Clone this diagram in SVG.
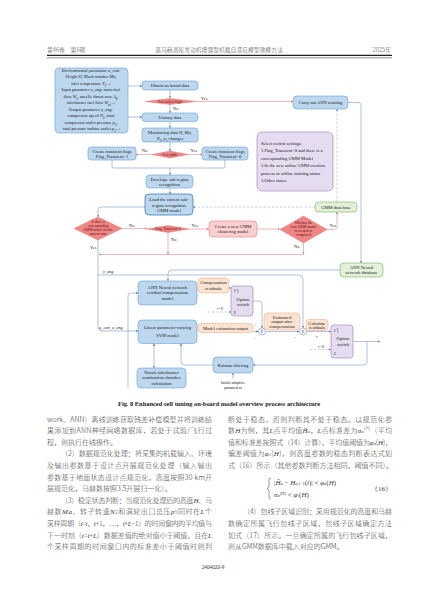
<svg xmlns="http://www.w3.org/2000/svg" width="427" height="599" viewBox="0 0 427 599">
<defs>
<style>
.t{font-family:"Liberation Serif",serif;font-size:4.6px;fill:#1a1a1a;text-anchor:middle}
.tl{font-family:"Liberation Serif",serif;font-size:4.6px;fill:#1a1a1a}
.ts{font-family:"Liberation Serif",serif;font-size:3.6px;fill:#5a1010;text-anchor:middle}
.i{font-style:italic}
.sb{font-size:3.2px;baseline-shift:sub}
.bx{fill:#bdd7ee;stroke:#6a9fd6;stroke-width:0.6}
.bxd{fill:#bdd7ee;stroke:#3d7cc0;stroke-width:0.8}
.dm{fill:#ef8585;stroke:#e46a6a;stroke-width:0.4}
.pk{fill:#f9cfcf;stroke:#e47d7d;stroke-width:0.6}
.gr{fill:#e3f0da;stroke:#77b152;stroke-width:0.6}
.pu{fill:#e6dcf0;stroke:#9a7bb8;stroke-width:0.6}
.or{fill:#fce3d2;stroke:#f0b088;stroke-width:0.6}
.sm{fill:#ffffff;stroke:#6a8fc4;stroke-width:0.6}
.cn{fill:none;stroke:#7a98c8;stroke-width:0.6;marker-end:url(#ab)}
.cn0{fill:none;stroke:#7a98c8;stroke-width:0.6}
.cr{fill:none;stroke:#e88a8a;stroke-width:0.6;marker-end:url(#ar)}
.ds{stroke-dasharray:2.5 1.6;stroke:#a8b8cc}
.zh{font-family:"Noto Sans CJK SC","Liberation Serif",sans-serif;font-size:7px;font-weight:300;fill:#3a3a3a}
.zv{font-family:"Liberation Serif",serif;font-style:italic}
.hd{font-family:"Noto Sans CJK SC",sans-serif;font-size:5.8px;font-weight:300;fill:#444}
.lb{font-family:"Liberation Serif",serif;font-size:4.4px;fill:#1a1a1a}
</style>
<marker id="ab" viewBox="0 0 6 6" refX="5.5" refY="3" markerWidth="4.5" markerHeight="4.5" orient="auto-start-reverse"><path d="M0,0.6 L6,3 L0,5.4z" fill="#4f77b3"/></marker>
<marker id="ar" viewBox="0 0 6 6" refX="5.5" refY="3" markerWidth="4.5" markerHeight="4.5" orient="auto"><path d="M0,0.6 L6,3 L0,5.4z" fill="#e06a6a"/></marker>
</defs>
<rect width="427" height="599" fill="#ffffff"/>

<g id="header">
<text class="hd" x="47" y="52">第46卷　第6期</text>
<text class="hd" x="219" y="52" text-anchor="middle">高马赫涡轮发动机增强型机载自适应模型建模方法</text>
<text class="hd" x="391" y="52" text-anchor="end">2025年</text>
<line x1="47" y1="55.3" x2="392" y2="55.3" stroke="#222" stroke-width="1.2"/>
<line x1="47" y1="57.8" x2="392" y2="57.8" stroke="#222" stroke-width="0.5"/>
</g>

<g id="connectors">
<path class="cn" d="M128,86 H142"/>
<path class="cn" d="M128,117 H142"/>
<path class="cn" d="M170,90 V98"/>
<path class="cr" d="M196,101.5 H293"/>
<path class="cn" d="M170,104 V113"/>
<path class="cn" d="M170,121.5 V128"/>
<path class="cn" d="M170,142 V151"/>
<path class="cr" d="M152,154.5 H136"/>
<path class="cr" d="M188,154.5 H202"/>
<path class="cn0" d="M112,160 V166 Q112,168 114,168 H223 Q225,168 225,166 V160"/>
<path class="cn" d="M170,168 V175"/>
<path class="cn" d="M170,188 V194"/>
<path class="cn" d="M145,207 H101 Q98,207 98,210 V217"/>
<path class="cn ds" d="M315,207 H193"/>
<path class="cn ds" d="M337,202 V109"/>
<path class="cn" d="M348,102.5 H358 Q361,102.5 361,105.5 V263"/>
<path class="cr" d="M122,228.5 H147"/>
<path class="cr" d="M189,229 H209"/>
<path class="cr" d="M257,229 H280"/>
<path class="cr" d="M327,229.5 H334 Q337,229.5 337,226.5 V212"/>
<path class="cr" d="M168,232.5 V254"/>
<path class="cr" d="M303.5,243 V254"/>
<path class="cr" d="M303.5,254.5 H99"/>
<path class="cn0" d="M98,240 V327 Q98,331 102,331"/>
<path class="cn" d="M101,331 H138"/>
<path class="cn" d="M340,270 H172 Q168,270 168,274 V281"/>
<path class="cn" d="M98,275 H299 Q303,275 303,279 V328"/>
<path class="cn" d="M128,388 V296 Q128,293 131,293 H138"/>
<path class="cn" d="M154,343.5 V368" marker-start="url(#ab)"/>
<path class="cn" d="M213,365 H185 Q181,365 181,361 V343.5"/>
<path class="cn" d="M233,379 V373"/>
<path class="cn" d="M229,288 H231"/>
<path class="cn ds" d="M208,312 H231"/>
<path class="cn" d="M253,301 H259 Q262,301 262,304 V328"/>
<path class="cn" d="M253,331.5 H258.5"/>
<path class="cn" d="M265.5,331.5 H299.5"/>
<path class="cn" d="M306.5,331.5 H331"/>
<path class="cn ds" d="M310,349.5 H331"/>
<path class="cn" d="M353,341.5 H380"/>
<path class="cn" d="M367,341.5 V362 Q367,365 364,365 H253"/>
</g>

<g id="env">
<rect class="bx" x="55" y="68" width="73" height="65" rx="4"/>
<text class="t" style="font-size:4.4px">
<tspan x="91.5" y="71.8" class="i">Environmental parameter u_con:</tspan>
<tspan x="91.5" y="78.3">Height <tspan class="i">H</tspan>, Mach number <tspan class="i">Ma</tspan>,</tspan>
<tspan x="91.5" y="84.8">inlet temperature <tspan class="i">T</tspan><tspan class="sb">1</tspan>...;</tspan>
<tspan x="91.5" y="91.3">Input parameter <tspan class="i">u_eng</tspan>: main fuel</tspan>
<tspan x="91.5" y="97.8">flow <tspan class="i">W</tspan><tspan class="sb">f</tspan>,  nacelle throat area <tspan class="i">A</tspan><tspan class="sb">8</tspan>,</tspan>
<tspan x="91.5" y="104.3">afterburner fuel flow <tspan class="i">W</tspan><tspan class="sb">fa</tspan>...;</tspan>
<tspan x="91.5" y="110.8">Output parameter <tspan class="i">y_eng</tspan>:</tspan>
<tspan x="91.5" y="117.3">compressor speed <tspan class="i">N</tspan><tspan class="sb">2</tspan>, total</tspan>
<tspan x="91.5" y="123.8">compressor outlet pressure <tspan class="i">p</tspan><tspan class="sb">3</tspan>,</tspan>
<tspan x="91.5" y="130.3">total pressure turbine outlet <tspan class="i">p</tspan><tspan class="sb">5</tspan>...;</tspan>
</text>
</g>
<g id="obtain"><rect class="bx" x="142" y="81" width="56" height="9" rx="3"/><text class="t" x="170" y="87.1">Obtain on board data</text></g>
<g id="endflight"><polygon class="dm" points="145,101.5 170,98.5 196,101.5 170,104.5"/><text class="ts" x="170" y="102.7">Test end of flight</text></g>
<g id="lbl1"><text class="lb" x="201" y="99.5">Yes</text><text class="lb" x="173" y="109.5">No</text></g>
<g id="unitary"><rect class="bx" x="142" y="113" width="56" height="8.5" rx="3"/><text class="t" x="170" y="118.9">Unitary data</text></g>
<g id="monitor"><rect class="bx" x="142" y="128" width="56" height="14" rx="3"/>
<text class="t"><tspan x="170" y="134">Monitoring data <tspan class="i">H</tspan>, <tspan class="i">Ma</tspan>,</tspan><tspan x="170" y="139.6"><tspan class="i">N</tspan><tspan class="sb">2</tspan>, <tspan class="i">p</tspan><tspan class="sb">3</tspan> changes</tspan></text></g>
<g id="stable"><polygon class="dm" points="152,154.5 170,151 188,154.5 170,158"/><text class="ts" x="170" y="155.7">Is it stable</text></g>
<g id="lbl2"><text class="lb" x="142" y="151.5">No</text><text class="lb" x="190.5" y="151.5">Yes</text></g>
<g id="flag1"><rect class="bx" x="88" y="147" width="48" height="13" rx="3"/><text class="t"><tspan x="112" y="152.6">Create transient flags</tspan><tspan x="112" y="157.8">Flag_Transient=1</tspan></text></g>
<g id="flag0"><rect class="bx" x="202" y="147" width="46" height="13" rx="3"/><text class="t"><tspan x="225" y="152.6">Create transient flags</tspan><tspan x="225" y="157.8">Flag_Transient=0</tspan></text></g>
<g id="envelope"><rect class="bx" x="146" y="175" width="47" height="13" rx="4"/><text class="t"><tspan x="169.5" y="180.6">Envelope sub-region</tspan><tspan x="169.5" y="185.8">recognition</tspan></text></g>
<g id="load"><rect class="bxd" x="145" y="194" width="48" height="21" rx="4"/><text class="t"><tspan x="169" y="201.2">Load the current sub-</tspan><tspan x="169" y="206.6">region recognition</tspan><tspan x="169" y="212">GMM model</tspan></text></g>
<g id="gmmexist"><polygon class="dm" points="74,228.5 98,217 122,228.5 98,240"/><text class="ts"><tspan x="98" y="223.2">Is there a</tspan><tspan x="98" y="227.2">corresponding</tspan><tspan x="98" y="231.2">GMM model for the</tspan><tspan x="98" y="235.2">current state</tspan></text></g>
<g id="lbl3"><text class="lb" x="129" y="227">No</text><text class="lb" x="90" y="249">Yes</text><text class="lb" x="171" y="241">No</text><text class="lb" x="191.5" y="227">Yes</text><text class="lb" x="329.5" y="227">Yes</text><text class="lb" x="294" y="248">No</text></g>
<g id="flagtest"><polygon class="dm" points="147,229 168,225.5 189,229 168,232.5"/><text class="ts" x="168" y="230.3">Flag_Transient=0</text></g>
<g id="newgmm"><rect class="pk" x="209" y="221" width="48" height="16" rx="4"/><text class="t"><tspan x="233" y="227.6">Create a new GMM</tspan><tspan x="233" y="232.8">clustering model</tspan></text></g>
<g id="gmmdone"><polygon class="dm" points="280,229.5 303.5,216 327,229.5 303.5,243"/><text class="ts"><tspan x="303.5" y="223.6">Whether the</tspan><tspan x="303.5" y="227.6">new GMM model</tspan><tspan x="303.5" y="231.6">is created or</tspan><tspan x="303.5" y="235.6">completed</tspan></text></g>
<g id="gmmdb"><rect class="gr" x="315" y="202" width="42" height="10" rx="4"/><text class="t" x="336" y="208.6">GMM data base</text></g>
<g id="anntrain"><rect class="bx" x="293" y="96" width="55" height="13" rx="4"/><text class="t" x="320.5" y="104.1">Carry out ANN training</text></g>
<g id="note"><rect class="pu" x="257" y="132" width="76" height="59" rx="5"/>
<text class="tl"><tspan x="261" y="144.5">Select switch settings:</tspan><tspan x="261" y="152">1.Flag_Transient=0 and there is a</tspan><tspan x="261" y="159.5">corresponding GMM Model</tspan><tspan x="261" y="167">2.In the new online GMM creation</tspan><tspan x="261" y="174.5">process or offline training status</tspan><tspan x="261" y="182">3.Other states</tspan></text></g>
<g id="anndb"><rect class="gr" x="340" y="263" width="43" height="14" rx="4"/><text class="t"><tspan x="361.5" y="268.9">ANN Neural</tspan><tspan x="361.5" y="274.3">network database</tspan></text></g>
<g id="lbl4"><text class="lb i" x="103" y="273.2">y_eng</text><text class="lb i" x="99" y="329">u_con, u_eng</text></g>
<g id="annmodel"><rect class="bx" x="138" y="281" width="59" height="24" rx="4"/><text class="t"><tspan x="167.5" y="288.8">ANN Neural network</tspan><tspan x="167.5" y="294.4">residual compensation</tspan><tspan x="167.5" y="300">model</tspan></text></g>
<g id="svm"><rect class="bx" x="138" y="320" width="59" height="23.5" rx="4"/><text class="t"><tspan x="167.5" y="329.2">Linear parameter-varying</tspan><tspan x="167.5" y="337">SVM model</tspan></text></g>
<g id="nozzle"><rect class="bx" x="137" y="368" width="49" height="20" rx="4"/><text class="t"><tspan x="161.5" y="373.8">Nozzle/afterburner</tspan><tspan x="161.5" y="379.2">combustion chamber</tspan><tspan x="161.5" y="384.6">calculation</tspan></text></g>
<g id="kalman"><rect class="bx" x="213" y="357" width="40" height="16" rx="4"/><text class="t" x="233" y="366.6">Kalman filtering</text></g>
<g id="initpar"><text class="t" style="font-size:4px"><tspan x="233" y="384.2">Initial adaptive</tspan><tspan x="233" y="389.2">parameters</tspan></text></g>
<g id="compres"><rect class="or" x="198" y="278" width="31" height="15" rx="4"/><text class="t"><tspan x="213.5" y="284.3">Compensation</tspan><tspan x="213.5" y="289.7">residuals</tspan></text></g>
<g id="switch1"><rect class="pu" x="231" y="286" width="22" height="30" rx="3"/>
<path d="M236.2,289.6 h1.6 v4" fill="none" stroke="#333" stroke-width="0.35"/>
<text class="tl"><tspan x="233.5" y="292.3">1</tspan><tspan x="233.5" y="313.5">2</tspan></text>
<text class="t"><tspan x="243" y="300.6">Option</tspan><tspan x="243" y="305.8">switch</tspan></text></g>
<g id="lbl5"><text class="lb i" x="217" y="310" style="font-size:3.8px">r=0</text><text class="lb" x="254.5" y="326">+</text><text class="lb" x="253.5" y="340">+</text><text class="lb" x="294" y="339">−</text><text class="lb i" x="316" y="337.5">r</text><text class="lb i" x="318" y="347.8" style="font-size:3.8px">r=0</text></g>
<g id="modelest"><rect class="or" x="198" y="323.5" width="55" height="9" rx="3"/><text class="t" x="225.5" y="329.6">Model estimation output</text></g>
<g id="sum1"><circle class="sm" cx="262" cy="331.5" r="3.5"/><text class="t" x="262" y="333.2" style="font-size:4.2px">Σ</text></g>
<g id="estout"><rect class="or" x="264" y="313" width="36" height="17" rx="4"/><text class="t"><tspan x="282" y="318.6">Estimated</tspan><tspan x="282" y="323.3">output after</tspan><tspan x="282" y="328">compensation</tspan></text></g>
<g id="sum2"><circle class="sm" cx="303" cy="331.5" r="3.5"/><text class="t" x="303" y="333.2" style="font-size:4.2px">Σ</text></g>
<g id="calcres"><rect class="or" x="306" y="319.5" width="22" height="11" rx="3"/><text class="t"><tspan x="317" y="324.5">Calculate</tspan><tspan x="317" y="329">residuals</tspan></text></g>
<g id="switch2"><rect class="pu" x="331" y="325" width="22" height="33" rx="3"/>
<path d="M336.2,328.8 h1.6 v4" fill="none" stroke="#333" stroke-width="0.35"/>
<text class="tl"><tspan x="333.5" y="331.5">1</tspan><tspan x="333.5" y="355">2</tspan></text>
<text class="t"><tspan x="343" y="340.4">Option</tspan><tspan x="343" y="345.6">switch</tspan></text></g>

<g id="caption"><text x="219" y="405.5" text-anchor="middle" textLength="202" lengthAdjust="spacingAndGlyphs" style="font-family:'Liberation Serif',serif;font-weight:bold;font-size:5.9px;fill:#222">Fig. 8    Enhanced self tuning on-board model overview process architecture</text></g>

<g id="textleft" class="zh">
<text x="47" y="421.5" textLength="165" lengthAdjust="spacing">work、ANN）离线训练获取残差补偿模型并将训练结</text>
<text x="47" y="433.1" textLength="165" lengthAdjust="spacing">果添加到ANN神经网络数据库，若处于试验/飞行过</text>
<text x="47" y="444.7">程，则执行在线操作。</text>
<text x="61" y="456.3" textLength="151" lengthAdjust="spacing">（2）数据规范化处理：将采集的机载输入、环境</text>
<text x="47" y="467.9" textLength="165" lengthAdjust="spacing">及输出参数基于设计点开展规范化处理（输入输出</text>
<text x="47" y="479.5" textLength="165" lengthAdjust="spacing">参数基于地面状态设计点规范化，高度按照30 km开</text>
<text x="47" y="491.1">展规范化，马赫数按照3.5开展归一化）。</text>
<text x="61" y="502.7" textLength="151" lengthAdjust="spacing">（3）稳定状态判断：当规范化处理后的高度<tspan class="zv">H</tspan>、马</text>
<text x="47" y="514.3" textLength="165" lengthAdjust="spacing">赫数<tspan class="zv">Ma</tspan>、转子转速<tspan class="zv">N</tspan><tspan style="font-size:4.5px">2</tspan>和涡轮出口总压<tspan class="zv">p</tspan><tspan style="font-size:4.5px">5</tspan>同时在<tspan class="zv">L</tspan>个</text>
<text x="47" y="525.9" textLength="165" lengthAdjust="spacing">采样周期（<tspan class="zv">t</tspan>=<tspan class="zv">i</tspan>，<tspan class="zv">i</tspan>+1，…，<tspan class="zv">i</tspan>+<tspan class="zv">L</tspan>−1）的时间窗内的平均值与</text>
<text x="47" y="537.5" textLength="165" lengthAdjust="spacing">下一时刻（<tspan class="zv">t</tspan>=<tspan class="zv">i</tspan>+<tspan class="zv">L</tspan>）数据差值的绝对值小于阈值，且在<tspan class="zv">L</tspan></text>
<text x="47" y="549.1" textLength="165" lengthAdjust="spacing">个采样周期的时间窗口内的标准差小于阈值时则判</text>
</g>

<g id="textright" class="zh">
<text x="228" y="421.5" textLength="164" lengthAdjust="spacing">断处于稳态，否则判断其不处于稳态。以规范化参</text>
<text x="228" y="433.1" textLength="164" lengthAdjust="spacing">数<tspan class="zv">H</tspan>为例，其<tspan class="zv">L</tspan>点平均值<tspan class="zv">H̄</tspan><tspan style="font-size:4.5px" class="zv">a</tspan>，<tspan class="zv">L</tspan>点标准差为<tspan class="zv">σ</tspan><tspan style="font-size:4.5px" class="zv">a</tspan><tspan style="font-size:4.5px" baseline-shift="super">(H)</tspan>（平均</text>
<text x="228" y="444.7" textLength="164" lengthAdjust="spacing">值和标准差按照式（14）计算），平均值阈值为<tspan class="zv">φ</tspan><tspan style="font-size:4.5px" class="zv">a</tspan>(<tspan class="zv">H</tspan>)，</text>
<text x="228" y="456.3" textLength="164" lengthAdjust="spacing">偏差阈值为<tspan class="zv">φ</tspan><tspan style="font-size:4.5px" class="zv">s</tspan>(<tspan class="zv">H</tspan>)，则高度参数的稳态判断表达式如</text>
<text x="228" y="467.9">式（16）所示（其他参数判断方法相同，阈值不同）。</text>
<path d="M271,478 q-2,0 -2,2 v6 q0,2 -2,2.6 q2,0.6 2,2.6 v6 q0,2 2,2" fill="none" stroke="#333" stroke-width="0.5"/>
<text x="274" y="484.5" style="font-family:'Liberation Serif',serif;font-size:7px;font-weight:normal"><tspan>|</tspan><tspan class="zv">H̄</tspan><tspan style="font-size:4.5px" class="zv">a</tspan> − <tspan class="zv">H</tspan><tspan style="font-size:4.5px"><tspan class="zv">a</tspan>,<tspan class="zv">i</tspan>+1</tspan>(<tspan class="zv">i</tspan>)| &lt; <tspan class="zv">φ</tspan><tspan style="font-size:4.5px" class="zv">a</tspan>(<tspan class="zv">H</tspan>)</text>
<text x="274" y="496.5" style="font-family:'Liberation Serif',serif;font-size:7px;font-weight:normal"><tspan class="zv">σ</tspan><tspan style="font-size:4.5px" class="zv">a</tspan><tspan style="font-size:4.5px" baseline-shift="super">(H)</tspan> &lt; <tspan class="zv">φ</tspan><tspan style="font-size:4.5px" class="zv">s</tspan>(<tspan class="zv">H</tspan>)</text>
<text x="392" y="491" text-anchor="end" style="font-family:'Liberation Serif',serif;font-size:7px;font-weight:normal">（16）</text>
<text x="243" y="514.3" textLength="149" lengthAdjust="spacing">（4）包线子区域识别：采用规范化的高度和马赫</text>
<text x="228" y="525.9" textLength="164" lengthAdjust="spacing">数确定所属飞行包线子区域，包线子区域确定方法</text>
<text x="228" y="537.5" textLength="164" lengthAdjust="spacing">如式（17）所示。一旦确定所属的飞行包线子区域，</text>
<text x="228" y="549.1">则从GMM数据库中载入对应的GMM。</text>
</g>
<g id="pagenum"><text x="213" y="569" text-anchor="middle" style="font-family:'Liberation Serif',serif;font-size:5.2px;fill:#333">2404020-9</text></g>
</svg>
